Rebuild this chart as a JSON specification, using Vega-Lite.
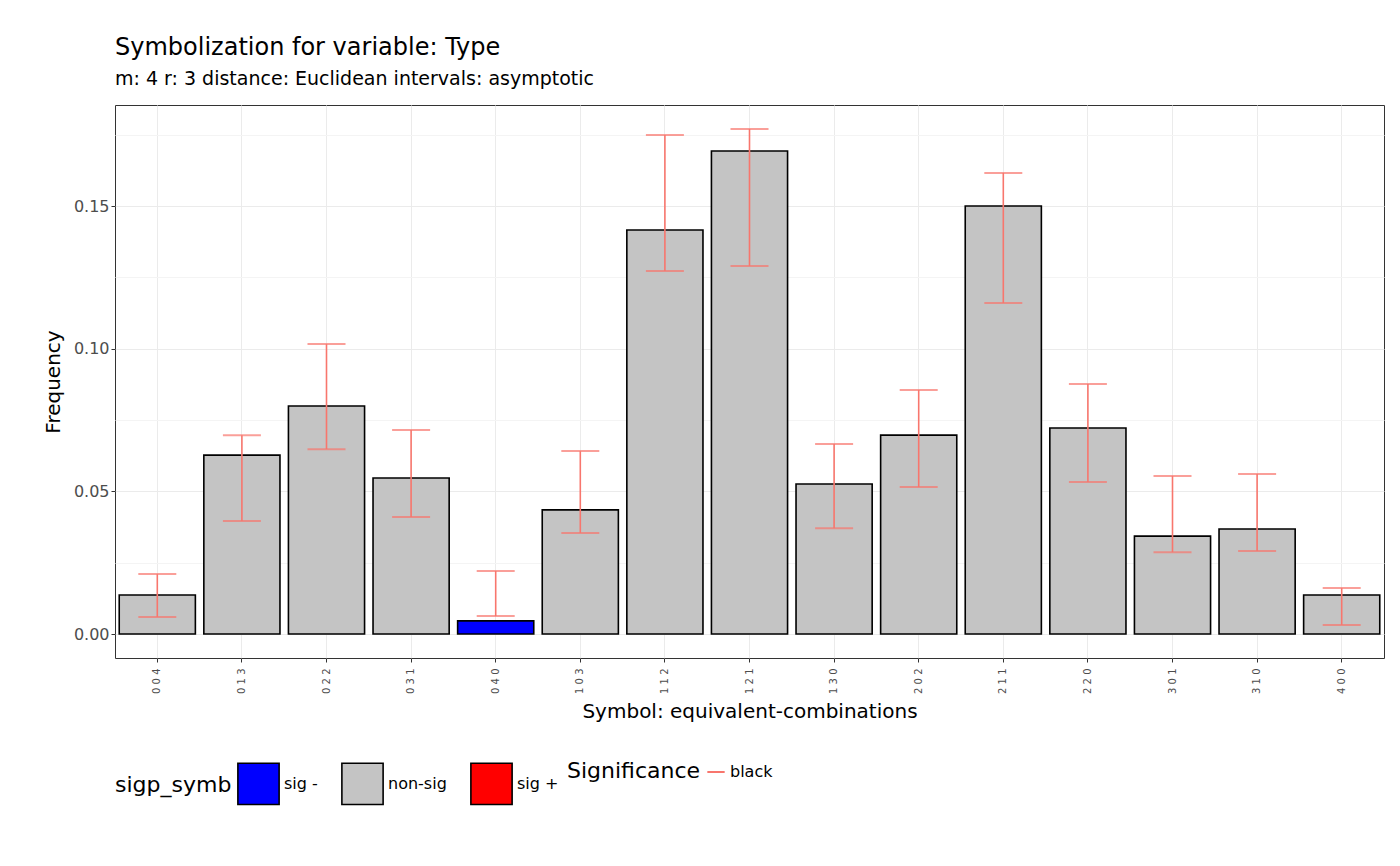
{"$schema": "https://vega.github.io/schema/vega-lite/v6.json",
 "autosize": {"type": "none"},
 "padding": {"left": 115, "top": 105, "right": 16, "bottom": 208},
 "width": 1269,
 "height": 553,
 "title": {
   "text": "Symbolization for variable: Type",
   "subtitle": "m: 4  r:  3  distance:  Euclidean  intervals:  asymptotic",
   "anchor": "start", "frame": "group",
   "font": "DejaVu Sans", "fontSize": 24, "fontWeight": "normal", "color": "black",
   "subtitleFont": "DejaVu Sans", "subtitleFontSize": 19, "subtitleColor": "black",
   "subtitlePadding": 10, "offset": 16},
 "config": {
   "font": "DejaVu Sans",
   "background": "white",
   "view": {"stroke": "#333333", "strokeWidth": 1}},
 "data": {"values": [
   {"symbol": "0 0 4", "freq": 0.0137, "lo": 0.0060, "hi": 0.0210, "sig": "non-sig"},
   {"symbol": "0 1 3", "freq": 0.0627, "lo": 0.0396, "hi": 0.0697, "sig": "non-sig"},
   {"symbol": "0 2 2", "freq": 0.0799, "lo": 0.0648, "hi": 0.1016, "sig": "non-sig"},
   {"symbol": "0 3 1", "freq": 0.0547, "lo": 0.0410, "hi": 0.0715, "sig": "non-sig"},
   {"symbol": "0 4 0", "freq": 0.0046, "lo": 0.0063, "hi": 0.0221, "sig": "sig -"},
   {"symbol": "1 0 3", "freq": 0.0435, "lo": 0.0354, "hi": 0.0641, "sig": "non-sig"},
   {"symbol": "1 1 2", "freq": 0.1416, "lo": 0.1272, "hi": 0.1749, "sig": "non-sig"},
   {"symbol": "1 2 1", "freq": 0.1693, "lo": 0.1290, "hi": 0.1770, "sig": "non-sig"},
   {"symbol": "1 3 0", "freq": 0.0526, "lo": 0.0371, "hi": 0.0666, "sig": "non-sig"},
   {"symbol": "2 0 2", "freq": 0.0697, "lo": 0.0515, "hi": 0.0855, "sig": "non-sig"},
   {"symbol": "2 1 1", "freq": 0.1500, "lo": 0.1160, "hi": 0.1616, "sig": "non-sig"},
   {"symbol": "2 2 0", "freq": 0.0722, "lo": 0.0533, "hi": 0.0876, "sig": "non-sig"},
   {"symbol": "3 0 1", "freq": 0.0343, "lo": 0.0287, "hi": 0.0554, "sig": "non-sig"},
   {"symbol": "3 1 0", "freq": 0.0368, "lo": 0.0291, "hi": 0.0561, "sig": "non-sig"},
   {"symbol": "4 0 0", "freq": 0.0137, "lo": 0.0032, "hi": 0.0161, "sig": "non-sig"}
 ]},
 "encoding": {
   "x": {"field": "symbol", "type": "nominal", "sort": null,
     "title": "Symbol: equivalent-combinations",
     "scale": {"paddingInner": 0.1, "paddingOuter": 0.05},
     "axis": {"labelAngle": -90, "labelFontSize": 10, "labelColor": "#4d4d4d",
       "titleFontSize": 20, "titleFontWeight": "normal", "titleColor": "black",
       "grid": true, "gridColor": "#ebebeb", "domain": false, "tickColor": "#333333", "tickSize": 4, "labelPadding": 6, "titlePadding": 8}}
 },
 "layer": [
   {"mark": {"type": "bar", "stroke": "black", "strokeWidth": 1.6},
    "encoding": {
      "y": {"field": "freq", "type": "quantitative", "title": "Frequency",
        "scale": {"domain": [-0.0084, 0.1854], "nice": false, "zero": false},
        "axis": {"values": [0, 0.025, 0.05, 0.075, 0.1, 0.125, 0.15, 0.175],
          "labelExpr": "round(datum.value*1000) % 50 == 0 ? format(datum.value, '.2f') : ''",
          "gridColor": {"condition": {"test": "round(datum.value*1000) % 50 == 0", "value": "#ebebeb"}, "value": "#f4f4f4"},
          "tickColor": {"condition": {"test": "round(datum.value*1000) % 50 == 0", "value": "#333333"}, "value": "transparent"},
          "labelFontSize": 16, "labelColor": "#4d4d4d", "domain": false, "tickSize": 4,
          "titleFontSize": 20, "titleFontWeight": "normal", "titleColor": "black", "titlePadding": 10}},
      "fill": {"field": "sig", "type": "nominal", "title": "sigp_symb",
        "scale": {"domain": ["sig -", "non-sig", "sig +"], "range": ["#0000ff", "#c4c4c4", "#ff0000"]},
        "legend": {"orient": "bottom", "direction": "horizontal", "titleOrient": "left",
          "symbolType": "square", "symbolSize": 1700, "symbolStrokeColor": "black", "symbolStrokeWidth": 1.6,
          "titleFontSize": 22, "titleFontWeight": "normal", "titleColor": "black",
          "labelFontSize": 16, "labelColor": "black", "columnPadding": 20, "offset": 40}}
    }},
   {"mark": {"type": "rule", "color": "#F8766D", "strokeWidth": 1.6},
    "encoding": {
      "y": {"field": "lo", "type": "quantitative"},
      "y2": {"field": "hi"},
      "stroke": {"datum": "black", "type": "nominal", "title": "Significance",
        "scale": {"range": ["#F8766D"]},
        "legend": {"orient": "bottom", "direction": "horizontal", "titleOrient": "left",
          "symbolType": "stroke", "symbolStrokeWidth": 2, "symbolSize": 300,
          "titleFontSize": 22, "titleFontWeight": "normal", "titleColor": "black",
          "labelFontSize": 16, "labelColor": "black", "offset": 40}}}},
   {"mark": {"type": "tick", "color": "#F8766D", "thickness": 2, "size": 38},
    "encoding": {"y": {"field": "lo", "type": "quantitative"}}},
   {"mark": {"type": "tick", "color": "#F8766D", "thickness": 2, "size": 38},
    "encoding": {"y": {"field": "hi", "type": "quantitative"}}}
 ]
}
